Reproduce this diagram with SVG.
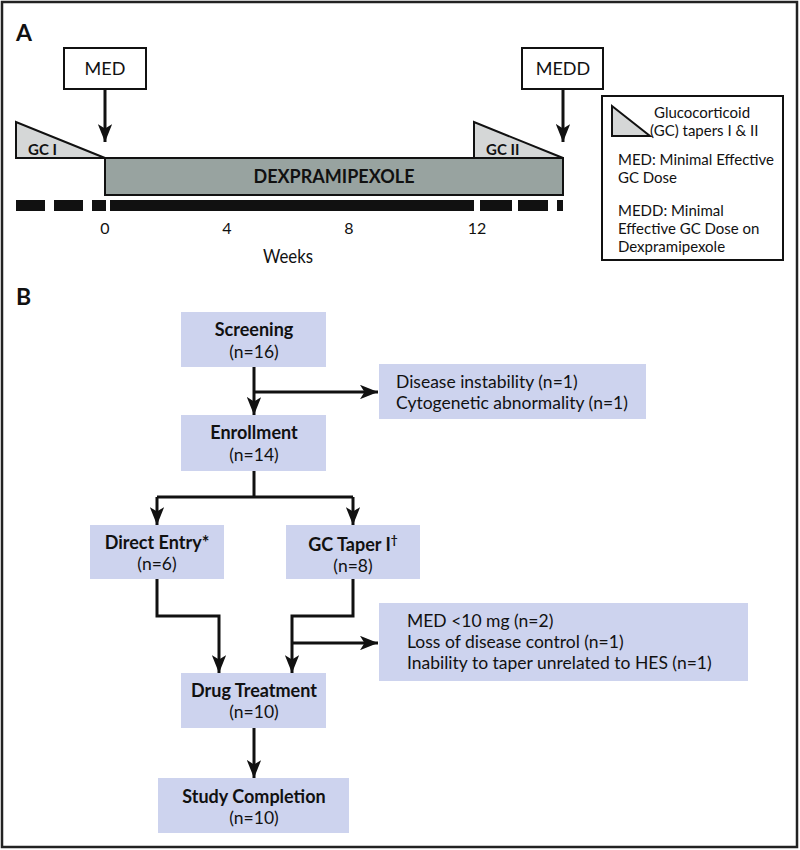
<svg xmlns="http://www.w3.org/2000/svg" width="800" height="850" viewBox="0 0 800 850">
<style>
text{font-family:Lato,"Noto Sans","Liberation Sans",sans-serif;fill:#111}
.b{font-weight:bold}
.lab{font-size:17.5px}
.tt{font-size:18px}
.lg{font-size:15px}
.fl{fill:#cdd3ee}
.ln{fill:none;stroke:#111;stroke-width:3}
.c{text-anchor:middle}
</style>
<defs>
<marker id="ah" viewBox="0 0 10 8" refX="10" refY="4" markerWidth="6" markerHeight="4.8" markerUnits="strokeWidth" orient="auto">
<path d="M0,0 L10,4 L0,8 L2.5,4 Z" fill="#111"/>
</marker>
</defs>
<rect x="2" y="2" width="795" height="845" fill="#fff" stroke="#222" stroke-width="2.5"/>
<text x="16" y="41" class="b" font-size="23">A</text>
<text x="16" y="305" class="b" font-size="23">B</text>

<g id="gc1">
<polygon points="16,122 16,158 105,158" fill="#d5d7d7" stroke="#111" stroke-width="2"/>
<text x="28" y="155" class="b" font-size="15">GC I</text>
</g>
<g id="gc2">
<polygon points="474,122 474,158 563,158" fill="#d5d7d7" stroke="#111" stroke-width="2"/>
<text x="486" y="155" class="b" font-size="15">GC II</text>
</g>
<g id="dex">
<rect x="105" y="158" width="458" height="37" fill="#98a3a0" stroke="#111" stroke-width="2"/>
<text x="334" y="183" class="b c" font-size="18">DEXPRAMIPEXOLE</text>
</g>
<g id="med">
<rect x="64" y="48" width="82" height="41" fill="#fff" stroke="#111" stroke-width="2"/>
<text x="105" y="75" class="c" font-size="18">MED</text>
</g>
<g id="medd">
<rect x="522" y="48" width="81" height="41" fill="#fff" stroke="#111" stroke-width="2"/>
<text x="563" y="75" class="c" font-size="18">MEDD</text>
</g>
<g id="axis" fill="#111">
<rect x="16" y="200" width="29" height="11"/>
<rect x="54" y="200" width="29" height="11"/>
<rect x="92" y="200" width="14" height="11"/>
<rect x="110" y="200" width="364" height="11"/>
<rect x="480" y="200" width="32" height="11"/>
<rect x="518" y="200" width="30" height="11"/>
<rect x="557" y="200" width="6" height="11"/>
<text x="105" y="234" class="c" font-size="16">0</text>
<text x="227" y="234" class="c" font-size="16">4</text>
<text x="349" y="234" class="c" font-size="16">8</text>
<text x="477" y="234" class="c" font-size="16">12</text>
<text x="288" y="263" class="c" font-size="19" textLength="50" lengthAdjust="spacingAndGlyphs">Weeks</text>
</g>
<g id="legend">
<rect x="602" y="96" width="181" height="164" fill="#fff" stroke="#111" stroke-width="2"/>
<polygon points="612,106 612,136 650,136" fill="#d5d7d7" stroke="#111" stroke-width="2"/>
<text x="654" y="118" class="lg">Glucocorticoid</text>
<text x="650" y="136" class="lg">(GC) tapers I &amp; II</text>
<text x="618" y="165" class="lg">MED: Minimal Effective</text>
<text x="618" y="183" class="lg">GC Dose</text>
<text x="618" y="216" class="lg">MEDD: Minimal</text>
<text x="618" y="234" class="lg">Effective GC Dose on</text>
<text x="618" y="252" class="lg">Dexpramipexole</text>
</g>

<g id="connectors">
<line class="ln" x1="105" y1="89" x2="105" y2="142" marker-end="url(#ah)"/>
<line class="ln" x1="563" y1="89" x2="563" y2="142" marker-end="url(#ah)"/>
<line class="ln" x1="254" y1="367" x2="254" y2="415" marker-end="url(#ah)"/>
<line class="ln" x1="254" y1="392" x2="378" y2="392" marker-end="url(#ah)"/>
<polyline class="ln" points="254,471 254,497"/>
<polyline class="ln" points="157,497 353,497"/>
<line class="ln" x1="157" y1="497" x2="157" y2="525" marker-end="url(#ah)"/>
<line class="ln" x1="353" y1="497" x2="353" y2="525" marker-end="url(#ah)"/>
<polyline class="ln" points="157,579 157,616 219,616 219,673" marker-end="url(#ah)"/>
<polyline class="ln" points="353,579 353,616 292,616 292,673" marker-end="url(#ah)"/>
<line class="ln" x1="292" y1="643" x2="378" y2="643" marker-end="url(#ah)"/>
<line class="ln" x1="254" y1="728" x2="254" y2="778" marker-end="url(#ah)"/>
</g>

<g id="screening">
<rect class="fl" x="181" y="312" width="145" height="55"/>
<text x="254" y="336" class="b c tt">Screening</text>
<text x="254" y="358" class="c lab">(n=16)</text>
</g>
<g id="excl1">
<rect class="fl" x="379" y="364" width="267" height="55"/>
<text x="396" y="388" class="lab">Disease instability (n=1)</text>
<text x="396" y="409" class="lab">Cytogenetic abnormality (n=1)</text>
</g>
<g id="enrollment">
<rect class="fl" x="181" y="415" width="145" height="56"/>
<text x="254" y="439" class="b c tt">Enrollment</text>
<text x="254" y="461" class="c lab">(n=14)</text>
</g>
<g id="direct">
<rect class="fl" x="90" y="525" width="134" height="54"/>
<text x="157" y="549" class="b c tt">Direct Entry*</text>
<text x="157" y="570" class="c lab">(n=6)</text>
</g>
<g id="taper">
<rect class="fl" x="286" y="525" width="134" height="54"/>
<text x="353" y="551" class="b c tt">GC Taper I<tspan font-size="12" dy="-7">†</tspan></text>
<text x="353" y="572" class="c lab">(n=8)</text>
</g>
<g id="excl2">
<rect class="fl" x="379" y="603" width="369" height="78"/>
<text x="407" y="627" class="lab">MED &lt;10 mg (n=2)</text>
<text x="407" y="648" class="lab">Loss of disease control (n=1)</text>
<text x="407" y="669" class="lab">Inability to taper unrelated to HES (n=1)</text>
</g>
<g id="drug">
<rect class="fl" x="181" y="673" width="145" height="55"/>
<text x="254" y="697" class="b c tt">Drug Treatment</text>
<text x="254" y="718" class="c lab">(n=10)</text>
</g>
<g id="completion">
<rect class="fl" x="158" y="778" width="191" height="55"/>
<text x="254" y="803" class="b c tt">Study Completion</text>
<text x="254" y="824" class="c lab">(n=10)</text>
</g>
</svg>
